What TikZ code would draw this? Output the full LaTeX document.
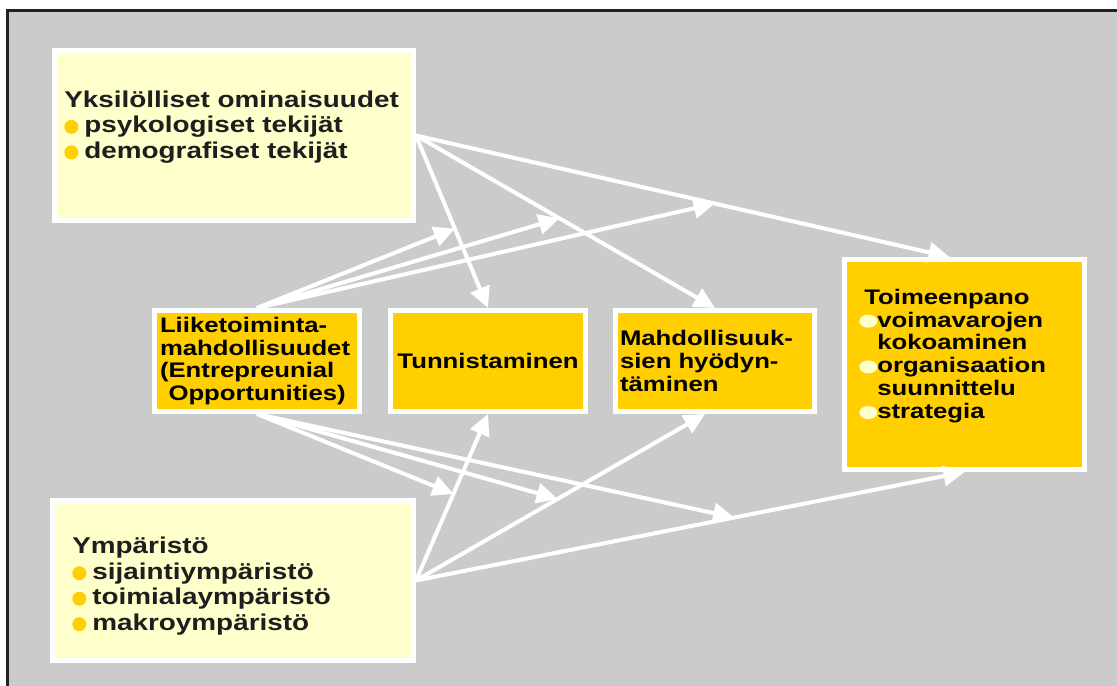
\documentclass[tikz,border=0pt]{standalone}
\usepackage{fontspec}
\setmainfont{Liberation Sans}[FakeStretch=1.22]
\usetikzlibrary{arrows.meta}
\definecolor{panelgray}{HTML}{CBCBCB}
\definecolor{paleyellow}{HTML}{FFFFCC}
\definecolor{gold}{HTML}{FFCF00}
\definecolor{framegray}{HTML}{222222}
\definecolor{inkgray}{HTML}{1E1E1E}
\tikzstyle{palebox} = [rectangle, draw=white, line width=0.1cm, fill=paleyellow]
\tikzstyle{goldbox} = [rectangle, draw=white, line width=0.1cm, fill=gold, inner sep=0pt, text=black, font=\fontsize{12}{12.9}\selectfont\bfseries]
\tikzstyle{listtext} = [inner sep=0pt, align=left, text=inkgray, font=\fontsize{13}{14.5}\selectfont\bfseries]
\tikzstyle{arrow} = [line width=0.08cm, draw=white, -{Triangle[length=0.42cm,width=0.4cm]}]
\newcommand{\golddot}{\raisebox{-0.6pt}{\tikz\fill[gold] (0,0) circle (0.14cm);}\hspace{0.12cm}}
\newcommand{\paledot}{\raisebox{-0.3pt}{\tikz\fill[paleyellow] (0,0) ellipse (0.18cm and 0.13cm);}}

\begin{document}
\begin{tikzpicture}[x=0.02cm, y=-0.02cm]
\useasboundingbox (0,0) rectangle (1117,686);
\clip (0,0) rectangle (1117,686);
\fill [white] (0,0) rectangle (1117,686);
\draw [fill=panelgray, draw=framegray, line width=0.06cm] (7.5,11) rectangle (1140,710);
%
\node (yks) at (234,135.5) [palebox, minimum width=7.18cm, minimum height=3.4cm] {};
\node (yksText) at (64,127) [listtext, anchor=west] {Yksilölliset ominaisuudet\\ \golddot psykologiset tekijät\\ \golddot demografiset tekijät};
%
\node (ymp) at (233,580.5) [palebox, minimum width=7.22cm, minimum height=3.2cm] {};
\node (ympText) at (72,586) [listtext, anchor=west] {Ympäristö\\ \golddot sijaintiympäristö\\ \golddot toimialaympäristö\\ \golddot makroympäristö};
%
\node (liike) at (257,361) [goldbox, minimum width=4.1cm, minimum height=2.02cm, text width=3.88cm, align=left] {Liiketoiminta-\\mahdollisuudet\\(Entrepreunial\\\hspace*{0.17cm}Opportunities)};
%
\node (tunn) at (488,361) [goldbox, minimum width=3.9cm, minimum height=2.02cm] {Tunnistaminen};
%
\node (mahd) at (715,361) [goldbox, minimum width=3.98cm, minimum height=2.02cm, text width=3.8cm, align=left] {Mahdollisuuk-\\sien hyödyn-\\täminen};
%
\node (toim) at (964.5,364.5) [goldbox, minimum width=4.8cm, minimum height=4.2cm] {};
\node (toimText) at (859,356) [listtext, anchor=west, text=black, font=\fontsize{12}{13}\selectfont\bfseries] {\hspace*{0.1cm}Toimeenpano\\ \paledot voimavarojen\\ \hspace*{0.36cm}kokoaminen\\ \paledot organisaation\\ \hspace*{0.36cm}suunnittelu\\ \paledot strategia};
%
\draw [arrow] (yks.east) -- coordinate[pos=0.54] (onYT) (tunn.north);
\draw [arrow] (yks.east) -- coordinate[pos=0.48] (onYM) (mahd.north);
\draw [arrow] (yks.east) -- coordinate[pos=0.56] (onYO) ([xshift=-0.3cm]toim.north);
\draw [arrow] (ymp.east) -- coordinate[pos=0.52] (onET) (tunn.south);
\draw [arrow] (ymp.east) -- coordinate[pos=0.49] (onEM) ([xshift=-0.2cm]mahd.south);
\draw [arrow] (ymp.east) -- coordinate[pos=0.58] (onEO) (toim.south);
%
\draw [arrow] (liike.north) -- (onYT);
\draw [arrow] (liike.north) -- (onYM);
\draw [arrow] (liike.north) -- (onYO);
\draw [arrow] (liike.south) -- (onET);
\draw [arrow] (liike.south) -- (onEM);
\draw [arrow] (liike.south) -- (onEO);

\end{tikzpicture}
\end{document}
